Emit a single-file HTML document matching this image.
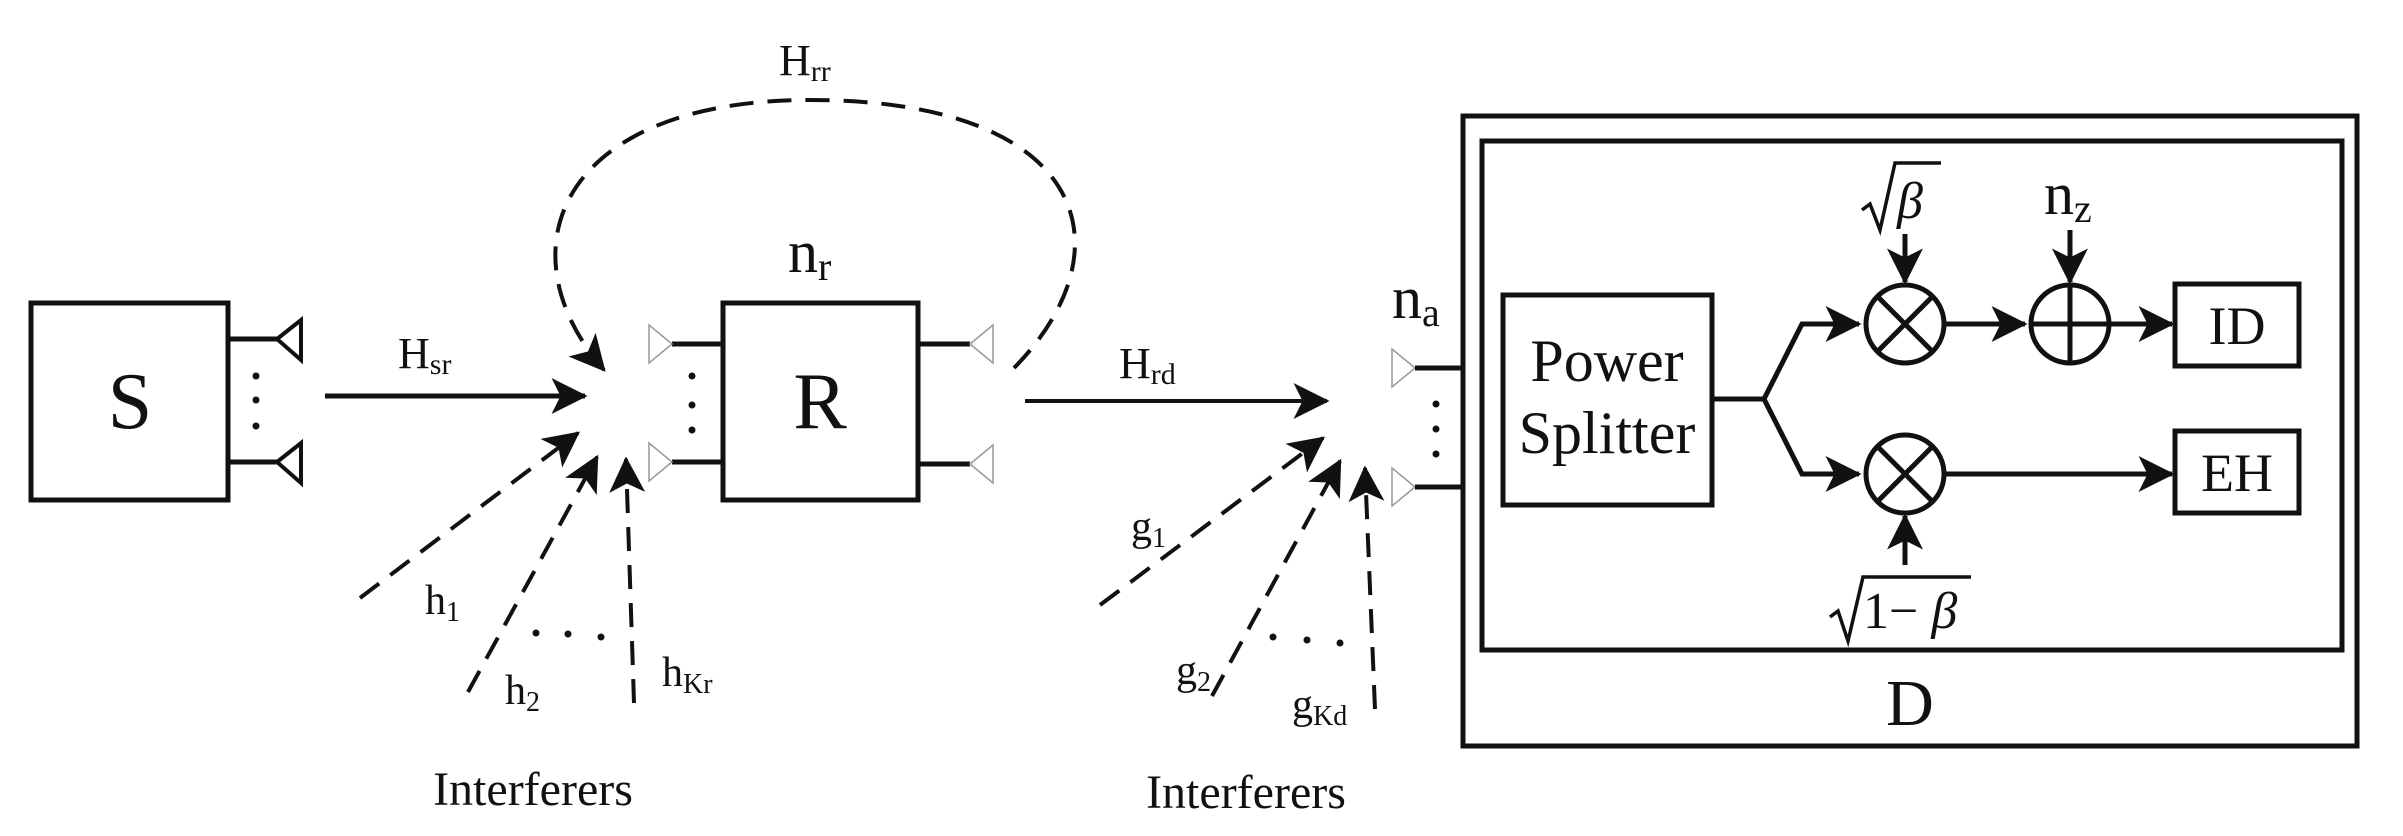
<!DOCTYPE html>
<html><head><meta charset="utf-8"><style>
html,body{margin:0;padding:0;background:#fff;}
svg{display:block;}
text{font-family:"Liberation Serif","Times New Roman",serif;fill:#111;}
</style></head><body>
<svg width="2403" height="836" viewBox="0 0 2403 836" xmlns="http://www.w3.org/2000/svg">
<defs>
<marker id="a" markerWidth="10" markerHeight="10" refX="9" refY="5" orient="auto" markerUnits="userSpaceOnUse" viewBox="0 0 10 10" style="overflow:visible">
<path d="M0,0 L10,5 L0,10 L2.5,5 Z" fill="#111" transform="scale(3.6) translate(-6.8,-3.6)"/>
</marker>
</defs>
<g stroke="#111" stroke-width="5" fill="none">
<rect x="31" y="303" width="197" height="197"/>
<line x1="228" y1="339" x2="277" y2="339"/><line x1="228" y1="462" x2="277" y2="462"/>
<path d="M277,339 L301,320 L301,360 Z" stroke-width="4"/>
<path d="M277,462 L301,443 L301,483 Z" stroke-width="4"/>
<rect x="723" y="303" width="195" height="197"/>
<line x1="672" y1="344" x2="723" y2="344"/><line x1="672" y1="462" x2="723" y2="462"/>
<line x1="918" y1="344" x2="970" y2="344"/><line x1="918" y1="464" x2="970" y2="464"/>
</g>
<g stroke="#999" stroke-width="1.5" fill="#fff">
<path d="M649,325 L672,344 L649,363 Z"/><path d="M649,443 L672,462 L649,481 Z"/>
<path d="M993,325 L970,344 L993,363 Z"/><path d="M993,445 L970,464 L993,483 Z"/>
<path d="M1392,349 L1415,368 L1392,387 Z"/><path d="M1392,468 L1415,487 L1392,506 Z"/>
</g>
<g fill="#111">
<circle cx="256" cy="376" r="3.5"/><circle cx="256" cy="400" r="3.5"/><circle cx="256" cy="426" r="3.5"/>
<circle cx="692" cy="376" r="3.5"/><circle cx="692" cy="405" r="3.5"/><circle cx="692" cy="430" r="3.5"/>
<circle cx="1436" cy="404" r="3.5"/><circle cx="1436" cy="429" r="3.5"/><circle cx="1436" cy="454" r="3.5"/>
<circle cx="536" cy="633" r="3.5"/><circle cx="568" cy="634" r="3.5"/><circle cx="601" cy="637" r="3.5"/>
<circle cx="1273" cy="637" r="3.5"/><circle cx="1307" cy="640" r="3.5"/><circle cx="1340" cy="643" r="3.5"/>
</g>
<g stroke="#111" stroke-width="5" fill="none">
<line x1="325" y1="396" x2="585" y2="396" marker-end="url(#a)"/>
<line x1="1025" y1="401" x2="1327" y2="401" marker-end="url(#a)" stroke-width="4"/>
</g>
<g stroke="#111" stroke-width="4" fill="none" stroke-dasharray="24,14">
<path d="M1014,368 C1130,250 1090,100 810,100 C560,100 500,250 604,370" marker-end="url(#a)"/>
<line x1="360" y1="598" x2="578" y2="433" marker-end="url(#a)"/>
<line x1="468" y1="692" x2="597" y2="457" marker-end="url(#a)"/>
<line x1="634" y1="703" x2="626" y2="459" marker-end="url(#a)"/>
<line x1="1100" y1="605" x2="1323" y2="438" marker-end="url(#a)"/>
<line x1="1212" y1="696" x2="1340" y2="461" marker-end="url(#a)"/>
<line x1="1375" y1="709" x2="1365" y2="468" marker-end="url(#a)"/>
</g>
<g stroke="#111" stroke-width="5" fill="none">
<line x1="1415" y1="368" x2="1463" y2="368"/><line x1="1415" y1="487" x2="1463" y2="487"/>
<rect x="1463" y="116" width="894" height="630"/>
<rect x="1482" y="141" width="860" height="509"/>
<rect x="1503" y="295" width="209" height="210"/>
<polyline points="1712,399 1764,399 1802,324 1859,324" marker-end="url(#a)"/>
<polyline points="1764,399 1802,474 1859,474" marker-end="url(#a)"/>
<circle cx="1905" cy="324" r="39"/>
<line x1="1877" y1="296" x2="1933" y2="352"/><line x1="1933" y1="296" x2="1877" y2="352"/>
<circle cx="1905" cy="474" r="39"/>
<line x1="1877" y1="446" x2="1933" y2="502"/><line x1="1933" y1="446" x2="1877" y2="502"/>
<circle cx="2070" cy="324" r="39"/>
<line x1="2031" y1="324" x2="2109" y2="324"/><line x1="2070" y1="285" x2="2070" y2="363"/>
<line x1="1944" y1="324" x2="2025" y2="324" marker-end="url(#a)"/>
<line x1="2109" y1="324" x2="2172" y2="324" marker-end="url(#a)"/>
<line x1="1944" y1="474" x2="2172" y2="474" marker-end="url(#a)"/>
<line x1="1905" y1="234" x2="1905" y2="282" marker-end="url(#a)"/>
<line x1="2070" y1="230" x2="2070" y2="282" marker-end="url(#a)"/>
<line x1="1905" y1="565" x2="1905" y2="516" marker-end="url(#a)"/>
<rect x="2175" y="284" width="124" height="82"/>
<rect x="2175" y="431" width="124" height="82"/>
<polyline points="1862,210 1870,204 1880,230 1895,163 1941,163" stroke-width="3.5"/>
<polyline points="1830,617 1838,611 1848,641 1863,577 1971,577" stroke-width="3.5"/>
</g>
<g font-size="80">
<text x="130" y="428" text-anchor="middle">S</text>
<text x="820" y="428" text-anchor="middle">R</text>
</g>
<text x="398" y="368" font-size="44">H<tspan font-size="30" dy="6">sr</tspan></text>
<text x="1119" y="378" font-size="44">H<tspan font-size="30" dy="6">rd</tspan></text>
<text x="779" y="75" font-size="44">H<tspan font-size="30" dy="6">rr</tspan></text>
<text x="788" y="272" font-size="60">n<tspan font-size="40" dy="8">r</tspan></text>
<text x="1392" y="318" font-size="60">n<tspan font-size="40" dy="8">a</tspan></text>
<text x="2044" y="214" font-size="60">n<tspan font-size="40" dy="8">z</tspan></text>
<text x="425" y="614" font-size="42">h<tspan font-size="28" dy="7">1</tspan></text>
<text x="505" y="704" font-size="42">h<tspan font-size="28" dy="7">2</tspan></text>
<text x="662" y="686" font-size="42">h<tspan font-size="28" dy="7">Kr</tspan></text>
<text x="1131" y="540" font-size="42">g<tspan font-size="28" dy="7">1</tspan></text>
<text x="1176" y="684" font-size="42">g<tspan font-size="28" dy="7">2</tspan></text>
<text x="1292" y="718" font-size="42">g<tspan font-size="28" dy="7">Kd</tspan></text>
<text x="533" y="805" font-size="48" text-anchor="middle">Interferers</text>
<text x="1246" y="808" font-size="48" text-anchor="middle">Interferers</text>
<text x="1607" y="381" font-size="60" text-anchor="middle">Power</text>
<text x="1607" y="453" font-size="60" text-anchor="middle">Splitter</text>
<text x="2237" y="344" font-size="54" text-anchor="middle">ID</text>
<text x="2237" y="491" font-size="54" text-anchor="middle">EH</text>
<text x="1910" y="725" font-size="66" text-anchor="middle">D</text>
<text x="1897" y="218" font-size="52" font-style="italic">β</text>
<text x="1863" y="628" font-size="52">1− <tspan font-style="italic">β</tspan></text>
</svg>
</body></html>
